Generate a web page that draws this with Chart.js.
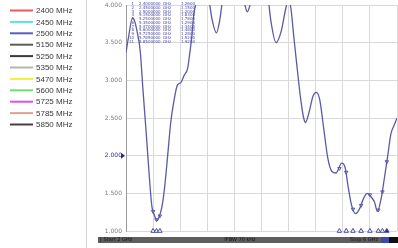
<!DOCTYPE html>
<html><head><meta charset="utf-8">
<script src="https://cdn.jsdelivr.net/npm/chart.js@4.4.1/dist/chart.umd.min.js"></script>
<style>
html,body{margin:0;padding:0;background:#fff;overflow:hidden;width:398px;height:248px}
canvas{display:block}
</style></head>
<body><canvas id="c" width="402" height="248"></canvas>
<script>
// ---- data ----
const freqGHz = [2.00,2.033,2.097,2.13,2.18,2.21,2.25,2.30,2.35,2.383,2.42,2.455,2.49,2.53,2.57,2.62,2.66,2.71,2.76,2.81,2.86,2.91,2.94,2.97,3.00,3.04,3.10,3.18,3.236,3.27,3.334,3.38,3.415,3.48,3.60,3.70,3.756,3.79,3.83,3.90,4.00,4.08,4.11,4.14,4.215,4.29,4.36,4.39,4.43,4.48,4.53,4.58,4.62,4.65,4.70,4.76,4.81,4.86,4.92,4.98,5.04,5.10,5.185,5.235,5.28,5.33,5.39,5.45,5.50,5.56,5.62,5.67,5.71,5.77,5.815,5.865,5.91,5.956,6.00];
const vswr    = [3.37,3.55,3.83,3.78,3.57,3.39,2.88,2.28,1.65,1.32,1.21,1.14,1.19,1.32,1.58,2.05,2.44,2.74,2.94,2.97,3.07,3.16,3.35,3.57,3.87,4.05,4.30,4.25,4.00,3.81,3.63,3.78,4.00,4.40,4.60,4.30,4.00,3.91,4.00,4.30,4.40,4.20,4.00,3.78,3.50,3.65,3.96,4.05,3.98,3.55,3.13,2.74,2.51,2.44,2.57,2.79,2.84,2.74,2.35,1.96,1.79,1.77,1.90,1.84,1.58,1.34,1.23,1.30,1.42,1.50,1.45,1.38,1.26,1.45,1.71,2.01,2.29,2.40,2.50];

const markerLabels = ['2400 MHz','2450 MHz','2500 MHz','5150 MHz','5250 MHz','5350 MHz','5470 MHz','5600 MHz','5725 MHz','5785 MHz','5850 MHz'];
const markerColors = ['#e85a5c','#5ee0e8','#5a5ac8','#5c5c5c','#3a3a3a','#b4b4b4','#f0f040','#70e070','#e050e0','#e0a090','#404040'];
const markerFreqGHz = [2.40,2.45,2.50,5.15,5.25,5.35,5.47,5.60,5.725,5.785,5.85];
const markerVswr    = [1.26,1.15,1.20,1.83,1.78,1.29,1.34,1.48,1.28,1.52,1.92];

const yMin = 1, yMax = 4, yStep = 0.5;
const xStart = 2, xStop = 6, xStep = 0.4;
const refLevel = 2.0;
const barTexts = ['Start 2 GHz','IFBW 70 kHz','Stop 6 GHz'];

const traceColor = '#5a5aa8';

const panelPlugin = {
  id: 'panel',
  afterDraw(chart) {
    const ctx = chart.ctx;
    const a = chart.chartArea;
    const ys = chart.scales.y;
    ctx.save();
    // legend panel separator
    ctx.strokeStyle = '#d4d4d4'; ctx.lineWidth = 1;
    ctx.beginPath(); ctx.moveTo(86.5, 0); ctx.lineTo(86.5, 248); ctx.stroke();
    // legend
    ctx.font = '8px "Liberation Sans", Arial, sans-serif';
    ctx.textBaseline = 'middle'; ctx.textAlign = 'left';
    markerLabels.forEach((t, i) => {
      const y = 10.5 + i * 11.4;
      ctx.strokeStyle = markerColors[i]; ctx.lineWidth = 2;
      ctx.beginPath(); ctx.moveTo(10, y); ctx.lineTo(33, y); ctx.stroke();
      ctx.fillStyle = '#3a3a3a';
      ctx.fillText(t, 36, y + 0.5);
    });
    // marker table
    ctx.font = '4px "DejaVu Sans", sans-serif';
    ctx.fillStyle = '#4848a0';
    markerFreqGHz.forEach((f, i) => {
      const y = 4 + i * 3.75;
      ctx.textAlign = 'right'; ctx.fillText(String(i + 1), 134, y);
      ctx.textAlign = 'left';
      ctx.fillText(f.toFixed(7), 139, y);
      ctx.fillText('GHz', 163, y);
      ctx.fillText(markerVswr[i].toFixed(4), 181, y);
    });
    // reference level arrow
    const ry = ys.getPixelForValue(refLevel);
    ctx.fillStyle = '#2a2a80';
    ctx.beginPath(); ctx.moveTo(121, ry - 3); ctx.lineTo(125, ry); ctx.lineTo(121, ry + 3); ctx.closePath(); ctx.fill();
    // bottom status bar
    ctx.fillStyle = '#5e5e5e';
    ctx.fillRect(98, 237, 300, 6);
    ctx.fillStyle = '#3a4aa8'; ctx.fillRect(381, 237, 8, 6);
    ctx.fillStyle = '#111'; ctx.fillRect(389, 237, 10, 6);
    ctx.font = '5px "DejaVu Sans", sans-serif';
    ctx.fillStyle = '#151515'; ctx.textBaseline = 'middle';
    ctx.textAlign = 'left'; ctx.fillText('[ ' + barTexts[0], 100, 240.2);
    ctx.textAlign = 'center'; ctx.fillText(barTexts[1], 240, 240.2);
    ctx.textAlign = 'right'; ctx.fillText(barTexts[2], 378, 240.2);
    ctx.restore();
  }
};

new Chart(document.getElementById('c'), {
  type: 'line',
  data: {
    datasets: [
      {
        label: 'VSWR',
        data: freqGHz.map((f, i) => ({x: f, y: vswr[i]})),
        borderColor: traceColor, borderWidth: 1.3,
        pointRadius: 0, fill: false,
        cubicInterpolationMode: 'monotone'
      },
      {
        label: 'markers on trace',
        type: 'scatter',
        data: markerFreqGHz.map((f, i) => ({x: f, y: markerVswr[i]})),
        pointStyle: 'triangle', rotation: 180, radius: 2,
        borderColor: traceColor, borderWidth: 1, backgroundColor: 'rgba(0,0,0,0)'
      },
      {
        label: 'marker flags',
        type: 'scatter',
        data: markerFreqGHz.map(f => ({x: f, y: yMin})),
        pointStyle: 'triangle', radius: 2.6,
        borderColor: '#4a4aa0', borderWidth: 1,
        backgroundColor: markerFreqGHz.map((f, i) => i === markerFreqGHz.length - 1 ? '#2a2a70' : '#ffffff'),
        clip: false
      }
    ]
  },
  options: {
    responsive: false, animation: false, devicePixelRatio: 1,
    layout: {padding: {left: 98, right: 1, top: 0, bottom: 17}},
    plugins: {legend: {display: false}, tooltip: {enabled: false}},
    scales: {
      x: {
        type: 'linear', min: xStart, max: xStop,
        ticks: {display: false, stepSize: xStep},
        grid: {color: '#d9d9d9', drawTicks: false},
        border: {display: false},
        afterFit(s) { s.height = 0; s.paddingLeft = 0; s.paddingRight = 0; }
      },
      y: {
        min: yMin, max: yMax,
        ticks: {
          stepSize: yStep, padding: 4,
          font: {size: 6, family: '"DejaVu Sans", sans-serif'},
          color: (c) => c.tick && c.tick.value === refLevel ? '#2a2a90' : '#7a7a88',
          callback: (v) => Number(v).toFixed(3)
        },
        grid: {color: '#d9d9d9', drawTicks: false},
        border: {color: '#9a9a9a', width: 1},
        afterFit(s) { s.width = 28; s.paddingTop = 0; s.paddingBottom = 0; }
      }
    }
  },
  plugins: [panelPlugin]
});
</script>
</body></html>
